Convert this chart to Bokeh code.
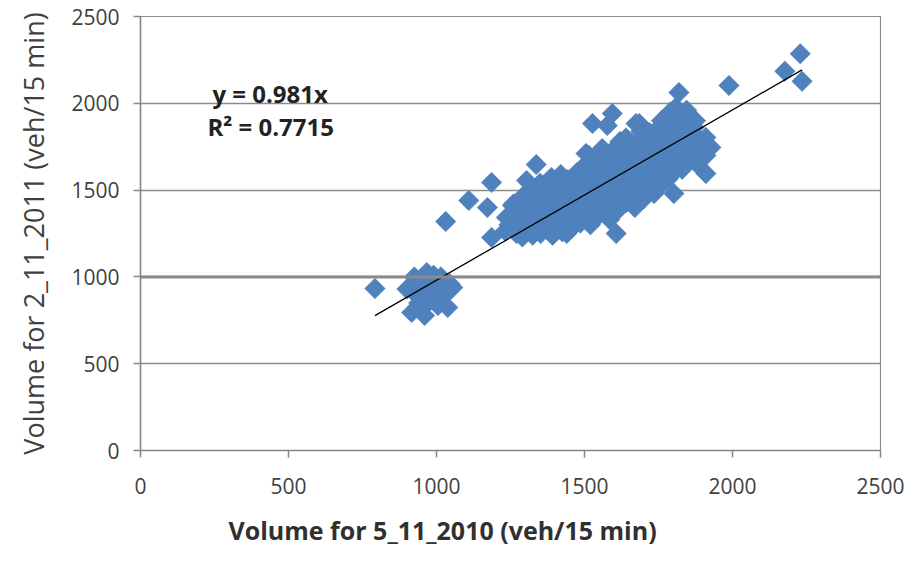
import math
from bokeh.plotting import figure
from bokeh.models import Range1d, FixedTicker, Label, Span, Title
from bokeh.embed import file_html
from bokeh.resources import INLINE

# ---- data ----
low_x = [792, 916, 960, 1038, 1055, 967, 930, 945, 985, 1000, 1015, 940, 975, 1020,
         900, 955, 1005, 990, 1045, 925, 970, 935, 1030]
low_y = [933, 795, 778, 824, 939, 1025, 900, 960, 870, 940, 1000, 850, 990, 880,
         930, 905, 835, 1010, 960, 1000, 850, 820, 910]

main_x = [1232, 1245, 1258, 1270, 1275, 1283, 1290,
          1302, 1310, 1318, 1325, 1333, 1340, 1347, 1352,
          1362, 1368, 1375, 1380, 1386, 1392, 1398,
          1405, 1412, 1418, 1425, 1430, 1437, 1444, 1450,
          1456, 1462, 1468, 1474, 1480, 1486, 1492, 1498, 1500,
          1508, 1512, 1518, 1524, 1530, 1536, 1540, 1546, 1550,
          1556, 1562, 1568, 1574, 1580, 1586, 1590, 1596, 1600,
          1606, 1612, 1618, 1624, 1630, 1636, 1642, 1648,
          1655, 1660, 1666, 1672, 1678, 1684, 1690, 1696,
          1704, 1710, 1716, 1722, 1728, 1734, 1740, 1746,
          1752, 1758, 1764, 1770, 1776, 1782, 1788, 1794, 1800,
          1808, 1815, 1822, 1830, 1838, 1845, 1852, 1860, 1868, 1875, 1882,
          1260, 1290, 1320, 1350, 1380, 1400, 1420, 1440, 1470, 1490, 1515,
          1520, 1545, 1560, 1585, 1610, 1620, 1640, 1650, 1670, 1690, 1700,
          1720, 1735, 1760, 1780, 1790, 1830, 1850, 1870, 1890, 1880]
main_y = [1265, 1300, 1340, 1250, 1380, 1310, 1230,
          1270, 1350, 1420, 1240, 1300, 1460, 1380, 1250,
          1320, 1410, 1270, 1490, 1350, 1240, 1440,
          1300, 1520, 1380, 1260, 1470, 1330, 1560, 1410,
          1280, 1500, 1360, 1600, 1440, 1310, 1540, 1400, 1640,
          1470, 1340, 1580, 1420, 1660, 1380, 1520, 1610, 1450,
          1690, 1400, 1560, 1480, 1650, 1420, 1720, 1530, 1600,
          1450, 1680, 1560, 1740, 1490, 1620, 1430, 1700,
          1540, 1770, 1470, 1650, 1590, 1730, 1500, 1800,
          1620, 1560, 1760, 1680, 1510, 1820, 1600, 1720,
          1860, 1650, 1540, 1780, 1700, 1900, 1620, 1840, 1750,
          1930, 1680, 1800, 1880, 1720, 1960, 1780, 1850, 1700, 1900, 1800,
          1420, 1460, 1500, 1540, 1390, 1330, 1590, 1250, 1550, 1620, 1700,
          1300, 1350, 1740, 1330, 1380, 1780, 1800, 1480, 1400, 1840, 1450,
          1830, 1480, 1900, 1560, 1950, 1620, 1680, 1860, 1760, 1650]

out_x = [1031, 1109, 1186, 1172, 1186, 1337, 1304, 1388, 1257, 1236, 1607,
         1527, 1594, 1674, 1577, 1505, 1819, 1988, 1809, 1927, 1910, 1809,
         1802, 1910, 1910, 2229, 2177, 2235, 1685]
out_y = [1319, 1440, 1544, 1400, 1227, 1647, 1555, 1573, 1411, 1342, 1250,
         1883, 1941, 1883, 1872, 1711, 2062, 2103, 1976, 1746, 1595, 1613,
         1480, 1699, 1803, 2285, 2185, 2127, 1883]

vol_2010 = low_x + main_x + out_x
vol_2011 = low_y + main_y + out_y

TREND_SLOPE = 0.981
R2 = 0.7715
ticks = [0, 500, 1000, 1500, 2000, 2500]

# ---- figure ----
p = figure(width=905, height=560, output_backend="svg", toolbar_location=None,
           x_range=Range1d(0, 2500), y_range=Range1d(0, 2500),
           min_border_left=140, min_border_right=25, min_border_top=16,
           min_border_bottom=110)
p.background_fill_color = "white"
p.border_fill_color = "white"
p.outline_line_color = "#8c8c8c"
p.outline_line_width = 1.2

p.xgrid.grid_line_color = None
p.ygrid.grid_line_color = "#8c8c8c"
p.ygrid.grid_line_width = 1.5
p.ygrid.ticker = FixedTicker(ticks=ticks)
p.add_layout(Span(location=1000, dimension="width", line_color="#8a8a8a", line_width=3))

for ax in (p.xaxis[0], p.yaxis[0]):
    ax.ticker = FixedTicker(ticks=ticks)
    ax.axis_line_color = "#868686"
    ax.axis_line_width = 1.5
    ax.major_tick_line_color = "#868686"
    ax.major_tick_line_width = 1.5
    ax.major_tick_out = 7
    ax.major_tick_in = 0
    ax.minor_tick_line_color = None
    ax.major_label_text_font = "Open Sans"
    ax.major_label_text_font_size = "21px"
    ax.major_label_text_color = "#404040"

p.xaxis.major_label_standoff = 20
p.yaxis.major_label_standoff = 14
p.yaxis.major_label_orientation = "horizontal"

p.yaxis.axis_label = "Volume for 2_11_2011 (veh/15 min)"
p.yaxis.axis_label_text_font = "Open Sans"
p.yaxis.axis_label_text_font_size = "27px"
p.yaxis.axis_label_text_font_style = "normal"
p.yaxis.axis_label_text_color = "#404040"
p.yaxis.axis_label_standoff = 16

# x-axis title below the chart, shifted left as in the reference
p.add_layout(Title(text="Volume for 5_11_2010 (veh/15 min)", align="left", offset=88,
                   text_font="Open Sans", text_font_size="25px", text_font_style="bold",
                   text_color="#303030", standoff=28), "below")

# scatter
p.scatter(vol_2010, vol_2011, marker="square", angle=math.pi / 4, size=14.5,
          fill_color="#4F81BD", line_color="#4F81BD", line_width=0.5)

# trend line
x0, x1 = min(vol_2010), max(vol_2010)
p.line([x0, x1], [TREND_SLOPE * x0, TREND_SLOPE * x1], line_color="black", line_width=1.3)

p.add_layout(Label(x=243, y=2057, text=f"y = {TREND_SLOPE}x",
                   text_font="Open Sans", text_font_size="24px", text_font_style="bold",
                   text_color="#222222", text_baseline="middle"))
p.add_layout(Label(x=226, y=1866, text=f"R² = {R2}",
                   text_font="Open Sans", text_font_size="24px", text_font_style="bold",
                   text_color="#222222", text_baseline="middle"))

open("out.html", "w").write(file_html(p, INLINE))
